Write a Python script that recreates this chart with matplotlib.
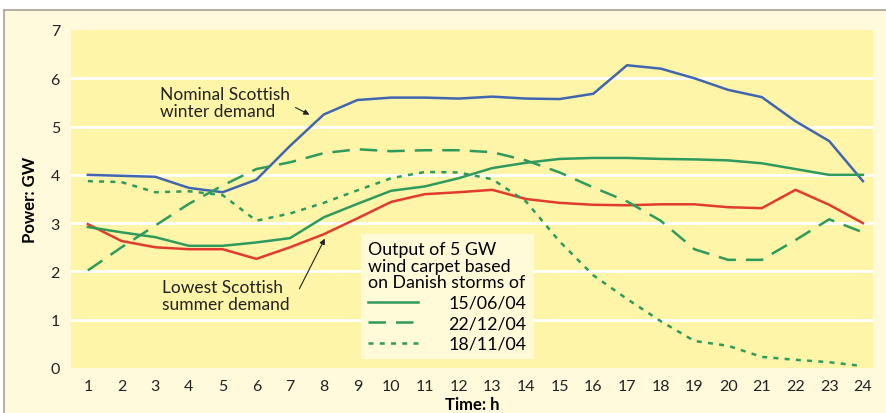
import matplotlib.pyplot as plt
from matplotlib.patches import Rectangle

plt.rcParams['font.family'] = ['Lato', 'DejaVu Sans']

hours = list(range(1, 25))

# power in GW
winter_demand = [4.0, 3.98, 3.96, 3.73, 3.64, 3.9, 4.6, 5.25, 5.55, 5.6, 5.6, 5.58,
                 5.62, 5.58, 5.57, 5.68, 6.27, 6.2, 6.0, 5.76, 5.61, 5.11, 4.7, 3.87]
summer_demand = [2.98, 2.63, 2.5, 2.46, 2.46, 2.26, 2.5, 2.77, 3.1, 3.44, 3.6, 3.64,
                 3.69, 3.5, 3.42, 3.38, 3.37, 3.39, 3.39, 3.33, 3.31, 3.69, 3.38, 3.0]
storm_150604 = [2.92, 2.81, 2.71, 2.53, 2.53, 2.6, 2.69, 3.12, 3.4, 3.67, 3.76, 3.93,
                4.14, 4.25, 4.33, 4.35, 4.35, 4.33, 4.32, 4.3, 4.24, 4.12, 4.0, 4.0]
storm_221204 = [2.02, 2.5, 2.95, 3.4, 3.78, 4.12, 4.26, 4.45, 4.53, 4.49, 4.51, 4.51,
                4.47, 4.3, 4.05, 3.74, 3.45, 3.05, 2.46, 2.24, 2.24, 2.65, 3.08, 2.81]
storm_181104 = [3.87, 3.85, 3.64, 3.66, 3.58, 3.05, 3.2, 3.42, 3.68, 3.93, 4.06, 4.05,
                3.91, 3.45, 2.62, 1.92, 1.43, 0.97, 0.56, 0.46, 0.23, 0.17, 0.12, 0.04]

blue = '#4166b0'
red = '#e23b2e'
green = '#2e9a5c'

fig = plt.figure(figsize=(8.87, 4.14), dpi=100)
fig.patch.set_facecolor('white')
# cream panel behind the chart, grey rule on top and left
fig.patches.append(Rectangle((4 / 887, 0), 1, 1 - 11 / 414, transform=fig.transFigure,
                             facecolor='#fffadb', edgecolor='none', zorder=-10))
fig.lines.append(plt.Line2D([4 / 887, 1], [1 - 11 / 414] * 2, transform=fig.transFigure,
                            color='#a9a196', lw=1.2, zorder=-9))
fig.lines.append(plt.Line2D([4 / 887] * 2, [0, 1 - 11 / 414], transform=fig.transFigure,
                            color='#a9a196', lw=1.2, zorder=-9))

ax = fig.add_axes([71 / 887, 45 / 414, 802 / 887, 338 / 414])
ax.set_facecolor('#fff5a8')
ax.set_xlim(0.5, 24.3)
ax.set_ylim(0, 7)
for s in ax.spines.values():
    s.set_visible(False)
ax.set_yticks(range(0, 8))
ax.set_xticks(hours)
ax.tick_params(length=0, labelsize=11.5, colors='#222222', pad=8)
ax.tick_params(axis='y', pad=8)
for y in range(1, 7):
    ax.axhline(y, color='white', lw=2, zorder=1)

ax.plot(hours, winter_demand, color=blue, lw=1.8, zorder=3)
ax.plot(hours, summer_demand, color=red, lw=1.8, zorder=3)
l1, = ax.plot(hours, storm_150604, color=green, lw=1.8, zorder=3)
l2, = ax.plot(hours, storm_221204, color=green, lw=1.8, dashes=(7, 4), zorder=3)
l3, = ax.plot(hours, storm_181104, color=green, lw=1.8, dashes=(2, 2.5), zorder=3)

ax.set_xlabel('Time: h', fontsize=12, fontweight='bold', labelpad=2)
ax.set_ylabel('Power: GW', fontsize=12, fontweight='bold', labelpad=9)

ax.text(3.14, 5.5, 'Nominal Scottish\nwinter demand', fontsize=12.5, color='#222222',
        ha='left', va='center', linespacing=1.1)
ax.annotate('', xy=(7.65, 5.22), xytext=(7.09, 5.42),
            arrowprops=dict(arrowstyle='-|>', color='#222222', lw=0.8, mutation_scale=8))
ax.text(3.2, 1.5, 'Lowest Scottish\nsummer demand', fontsize=12.5, color='#222222',
        ha='left', va='center', linespacing=1.1)
ax.annotate('', xy=(8.07, 2.73), xytext=(7.24, 1.59),
            arrowprops=dict(arrowstyle='-|>', color='#222222', lw=0.8, mutation_scale=8))

leg = ax.legend([l1, l2, l3], ['15/06/04', '22/12/04', '18/11/04'],
                title='Output of 5 GW\nwind carpet based\non Danish storms of',
                title_fontsize=12.8, fontsize=12.8, alignment='left',
                loc='lower left', bbox_to_anchor=(0.362, 0.027), borderaxespad=0,
                handlelength=2.8, handletextpad=1.7, labelspacing=0.25,
                borderpad=0.4, frameon=True, fancybox=False, framealpha=1)
leg.get_frame().set_facecolor('#fffad8')
leg.get_frame().set_edgecolor('none')
leg.get_title().set_linespacing(1.05)
leg.set_zorder(5)

fig.savefig('out.png', dpi=100)
